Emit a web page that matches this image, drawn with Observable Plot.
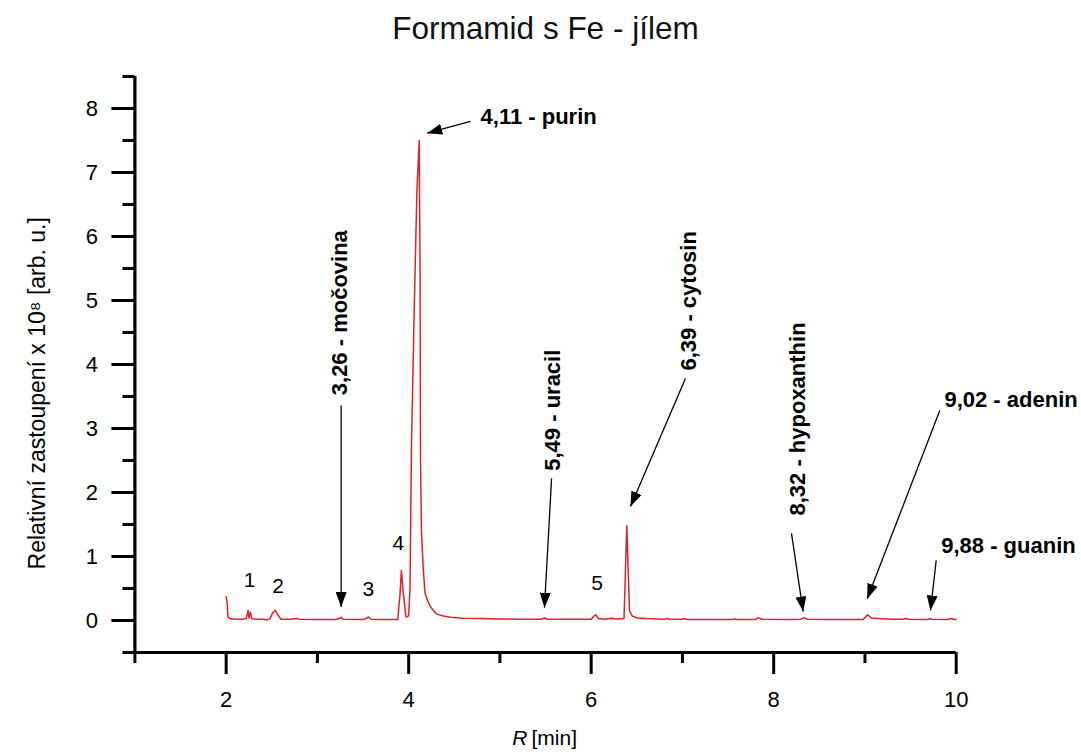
<!DOCTYPE html>
<html>
<head>
<meta charset="utf-8">
<script src="https://cdn.jsdelivr.net/npm/d3@7"></script>
<script src="https://cdn.jsdelivr.net/npm/@observablehq/plot@0.6"></script>
<style>
  html, body { margin: 0; padding: 0; background: #fff; }
  #wrap { width: 1081px; height: 754px; position: relative; font-family: "Liberation Sans", Arial, sans-serif; }
  #title { height: 56px; line-height: 56px; font-size: 31.5px; text-align: center; padding-left: 10px; color: #111; box-sizing: border-box; }
  #chart svg { display: block; }
</style>
</head>
<body>
<div id="wrap">
  <div id="title">Formamid s Fe - jílem</div>
  <div id="chart"></div>
</div>
<script>
// Chromatogram (retention time in min, relative abundance x 10^8)
const rt = [2.00, 2.01, 2.02, 2.04, 2.10, 2.18, 2.22, 2.24, 2.25, 2.265, 2.28, 2.32, 2.40, 2.45, 2.48, 2.51, 2.54, 2.57, 2.60, 2.70, 2.77, 2.80, 3.00, 3.20, 3.24, 3.26, 3.28, 3.50, 3.53, 3.56, 3.59, 3.70, 3.88, 3.905, 3.92, 3.94, 3.97, 3.99, 4.00, 4.015, 4.03, 4.06, 4.09, 4.115, 4.125, 4.13, 4.14, 4.16, 4.18, 4.21, 4.24, 4.28, 4.31, 4.38, 4.46, 4.60, 4.80, 5.00, 5.20, 5.45, 5.49, 5.52, 5.80, 6.00, 6.03, 6.05, 6.08, 6.15, 6.20, 6.23, 6.27, 6.36, 6.38, 6.39, 6.405, 6.42, 6.45, 6.50, 6.60, 6.80, 6.83, 6.86, 7.00, 7.02, 7.05, 7.30, 7.55, 7.57, 7.60, 7.80, 7.83, 7.87, 8.20, 8.30, 8.33, 8.37, 8.60, 8.98, 9.01, 9.03, 9.07, 9.15, 9.30, 9.42, 9.45, 9.48, 9.69, 9.71, 9.73, 9.90, 9.95, 9.98, 10.00];
const intensity = [0.37, 0.30, 0.06, 0.03, 0.02, 0.02, 0.03, 0.16, 0.04, 0.13, 0.03, 0.02, 0.02, 0.01, 0.03, 0.12, 0.16, 0.08, 0.02, 0.02, 0.03, 0.02, 0.015, 0.015, 0.03, 0.05, 0.02, 0.015, 0.03, 0.055, 0.02, 0.015, 0.015, 0.40, 0.78, 0.45, 0.06, 0.06, 0.08, 0.50, 2.66, 4.8, 6.7, 7.5, 5.5, 2.5, 1.4, 0.8, 0.42, 0.30, 0.21, 0.14, 0.10, 0.07, 0.05, 0.035, 0.03, 0.025, 0.02, 0.02, 0.04, 0.02, 0.02, 0.02, 0.07, 0.09, 0.03, 0.02, 0.03, 0.035, 0.025, 0.03, 1.0, 1.48, 0.8, 0.15, 0.07, 0.04, 0.03, 0.02, 0.03, 0.02, 0.02, 0.03, 0.015, 0.015, 0.015, 0.025, 0.015, 0.015, 0.045, 0.02, 0.015, 0.02, 0.045, 0.02, 0.015, 0.015, 0.06, 0.09, 0.04, 0.03, 0.02, 0.02, 0.03, 0.02, 0.015, 0.03, 0.02, 0.015, 0.03, 0.015, 0.015];

// Axis ticks
const xMajorTicks = [2, 4, 6, 8, 10];
const xMinorTicks = [1, 3, 5, 7, 9];
const yMajorTicks = [0, 1, 2, 3, 4, 5, 6, 7, 8];
const yMinorTicks = [-0.5, 0.5, 1.5, 2.5, 3.5, 4.5, 5.5, 6.5, 7.5, 8.5];

// Annotation arrows (tail -> tip, in data units)
const arrowX1 = [4.677, 3.26, 5.566, 7.033, 8.195, 9.820, 9.781];
const arrowY1 = [7.80, 3.36, 2.22, 3.78, 1.36, 3.28, 0.94];
const arrowX2 = [4.203, 3.26, 5.488, 6.431, 8.323, 9.025, 9.718];
const arrowY2 = [7.614, 0.21, 0.20, 1.78, 0.14, 0.34, 0.156];

// Horizontal compound labels
const hLabels = ["4,11 - purin", "9,02 - adenin", "9,88 - guanin"];
const hLabelX = [4.788, 9.871, 9.836];
const hLabelY = [7.761, 3.333, 1.047];

// Vertical compound labels
const vLabels = ["3,26 - močovina", "5,49 - uracil", "6,39 - cytosin", "8,32 - hypoxanthin"];
const vLabelX = [3.25, 5.576, 7.066, 8.261];
const vLabelY = [3.52, 2.34, 3.906, 1.64];

// Peak numbers
const peakNums = ["1", "2", "3", "4", "5"];
const peakNumX = [2.257, 2.568, 3.559, 3.888, 6.066];
const peakNumY = [0.516, 0.4375, 0.39, 1.094, 0.484];

const xTitle = "R";
const xTitleUnit = "[min]";
const yTitle = "Relativní zastoupení x 10⁸ [arb. u.]";

const series = rt.map((x, i) => ({x, y: intensity[i]}));
const arrows = arrowX1.map((x, i) => ({x1: x, y1: arrowY1[i], x2: arrowX2[i], y2: arrowY2[i]}));
const hl = hLabels.map((t, i) => ({t, x: hLabelX[i], y: hLabelY[i]}));
const vl = vLabels.map((t, i) => ({t, x: vLabelX[i], y: vLabelY[i]}));
const pn = peakNums.map((t, i) => ({t, x: peakNumX[i], y: peakNumY[i]}));

const chart = Plot.plot({
  width: 1081,
  height: 698,
  marginLeft: 134.4,
  marginRight: 125.3,
  marginTop: 20,
  marginBottom: 102,
  style: {fontFamily: "Liberation Sans, Arial, sans-serif", fontSize: "21px", color: "#000", background: "#fff", overflow: "visible"},
  x: {domain: [1, 10]},
  y: {domain: [-0.5, 8.5]},
  marks: [
    Plot.line(series, {x: "x", y: "y", stroke: "#e3202a", strokeWidth: 1.5}),
    Plot.axisX(xMajorTicks, {tickSize: 22, tickPadding: 17, label: null, fontSize: 22, tickFormat: d3.format("d"), fill: "#000"}),
    Plot.axisX(xMinorTicks, {tickSize: 11, tickFormat: () => "", label: null}),
    Plot.axisY(yMajorTicks, {tickSize: 23, tickPadding: 14, label: null, fontSize: 22, tickFormat: d3.format("d"), fill: "#000"}),
    Plot.axisY(yMinorTicks, {tickSize: 12, tickFormat: () => "", label: null}),
    Plot.ruleX([1], {y1: -0.5, y2: 8.5, strokeWidth: 3.2, stroke: "#000"}),
    Plot.ruleY([-0.5], {x1: 1, x2: 10, strokeWidth: 3.2, stroke: "#000"}),
    Plot.link(arrows, {x1: "x1", y1: "y1", x2: "x2", y2: "y2", stroke: "#000", strokeWidth: 1.3}),
    Plot.text(hl, {x: "x", y: "y", text: "t", textAnchor: "start", lineAnchor: "bottom", fontSize: 22, fontWeight: "bold", fill: "#000"}),
    Plot.text(vl, {x: "x", y: "y", text: "t", textAnchor: "start", lineAnchor: "middle", rotate: -90, fontSize: 22, fontWeight: "bold", fill: "#000"}),
    Plot.text(pn, {x: "x", y: "y", text: "t", textAnchor: "middle", lineAnchor: "bottom", fontSize: 21, fill: "#000"}),
    Plot.text([xTitle], {x: 5.302, y: -1.953, text: d => d, textAnchor: "end", lineAnchor: "bottom", fontSize: 21, fontStyle: "italic", fill: "#000"}),
    Plot.text([xTitleUnit], {x: 5.346, y: -1.953, text: d => d, textAnchor: "start", lineAnchor: "bottom", fontSize: 21, fill: "#000"}),
    Plot.text([yTitle], {x: -0.07, y: 3.55, text: d => d, textAnchor: "middle", lineAnchor: "middle", rotate: -90, fontSize: 23, fill: "#000"})
  ]
});

// Thick axis ticks and filled triangular arrowheads
const svg = d3.select(chart);
svg.selectAll('g[aria-label="x-axis tick"], g[aria-label="y-axis tick"]').attr("stroke-width", 3).attr("stroke", "#000");
const defs = svg.insert("defs", ":first-child");
defs.append("marker")
  .attr("id", "tri-head")
  .attr("viewBox", "0 0 15 11")
  .attr("refX", 15).attr("refY", 5.5)
  .attr("markerWidth", 15).attr("markerHeight", 11)
  .attr("markerUnits", "userSpaceOnUse")
  .attr("orient", "auto")
  .append("path").attr("d", "M0,0L15,5.5L0,11Z").attr("fill", "#000");
svg.selectAll('g[aria-label="link"] path, g[aria-label="link"] line').attr("marker-end", "url(#tri-head)");

document.getElementById("chart").appendChild(chart);
</script>
</body>
</html>
